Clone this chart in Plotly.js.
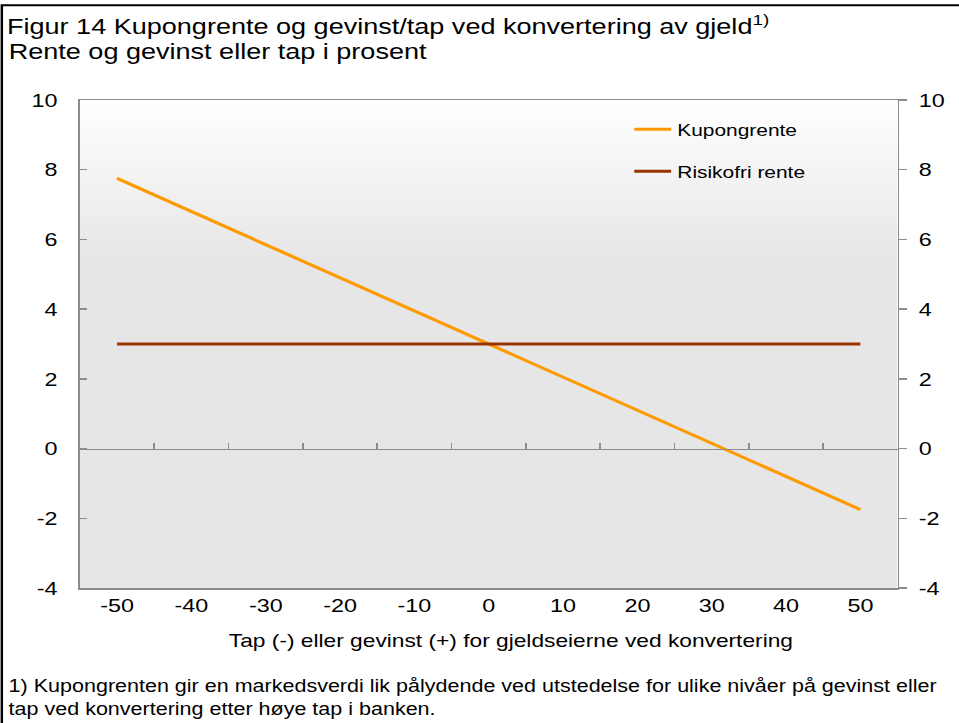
<!DOCTYPE html>
<html>
<head>
<meta charset="utf-8">
<script src="https://cdn.plot.ly/plotly-3.0.1.min.js"></script>
<style>
html,body{margin:0;padding:0;background:#fff;overflow:hidden;}
#wrap{width:959px;height:723px;overflow:hidden;}
#chart{width:780px;height:723px;transform:scaleX(1.2295);transform-origin:0 0;}
</style>
</head>
<body>
<div id="wrap"><div id="chart"></div></div>
<script>
// Data
const xValues = [-50, -40, -30, -20, -10, 0, 10, 20, 30, 40, 50];
const kupongrente = [7.75, 6.8, 5.85, 4.9, 3.95, 3.0, 2.05, 1.1, 0.15, -0.8, -1.75];
const risikofriRente = [3, 3, 3, 3, 3, 3, 3, 3, 3, 3, 3];
const xTickLabels = ['-50', '-40', '-30', '-20', '-10', '0', '10', '20', '30', '40', '50'];
const xMinorTicks = [-45, -35, -25, -15, -5, 5, 15, 25, 35, 45];
const yTicks = [-4, -2, 0, 2, 4, 6, 8, 10];
const yTickLabels = ['-4', '-2', '0', '2', '4', '6', '8', '10'];
const seriesNames = ['Kupongrente', 'Risikofri rente'];

const FONT = '"Liberation Sans", Arial, sans-serif';
const AX = '#8c8c8c';

const svg = "<svg xmlns='http://www.w3.org/2000/svg' width='100' height='100' preserveAspectRatio='none'>" +
  "<defs><linearGradient id='g' x1='0' y1='0' x2='0' y2='1'>" +
  "<stop offset='0' stop-color='#ffffff'/><stop offset='0.33' stop-color='#e6e6e6'/><stop offset='1' stop-color='#e6e6e6'/>" +
  "</linearGradient></defs><rect width='100' height='100' fill='url(#g)'/></svg>";
const bgSrc = 'data:image/svg+xml;charset=utf-8,' + encodeURIComponent(svg);

const traces = [
  {x: xValues, y: kupongrente, name: seriesNames[0], type: 'scatter', mode: 'lines',
   line: {color: '#ff9900', width: 3}, xaxis: 'x', yaxis: 'y', legendgroup: 'a'},
  {x: xValues, y: risikofriRente, name: seriesNames[1], type: 'scatter', mode: 'lines',
   line: {color: '#993300', width: 3}, xaxis: 'x2', yaxis: 'y2', legendgroup: 'b'}
];

const layout = {
  width: 780, height: 723,
  margin: {l: 65.07, r: 50.4, t: 100, b: 135},
  paper_bgcolor: '#ffffff',
  plot_bgcolor: 'rgba(0,0,0,0)',
  font: {family: FONT, color: '#000', size: 19},
  title: {
    text: 'Figur 14 Kupongrente og gevinst/tap ved konvertering av gjeld<sup>1)</sup>',
    font: {family: FONT, size: 22, color: '#000'},
    x: 0.0073, xref: 'container', xanchor: 'left',
    y: 0.963, yref: 'container', yanchor: 'middle', pad: {l: 0, t: 0, b: 0}
  },
  showlegend: true,
  legend: {
    x: 0.6705, y: 0.976, xanchor: 'left', yanchor: 'top',
    bgcolor: 'rgba(0,0,0,0)', borderwidth: 0,
    font: {family: FONT, size: 17, color: '#000'},
    traceorder: 'grouped', tracegroupgap: 17, itemwidth: 30
  },
  xaxis: {
    range: [-55, 55], tickvals: xValues, ticktext: xTickLabels,
    ticks: '', showline: true, linecolor: AX, linewidth: 1.5, mirror: true,
    showgrid: false, zeroline: false, tickfont: {size: 19},
    fixedrange: true
  },
  xaxis2: {
    overlaying: 'x', anchor: 'free', position: 4 / 14,
    range: [-55, 55], tickvals: xMinorTicks, showticklabels: false,
    ticks: 'inside', ticklen: 6, tickcolor: AX, tickwidth: 1.5,
    showline: true, linecolor: AX, linewidth: 1.5,
    showgrid: false, zeroline: false, fixedrange: true
  },
  yaxis: {
    range: [-4, 10], tickvals: yTicks, ticktext: yTickLabels, ticks: 'inside', ticklen: 6, tickcolor: AX, tickwidth: 1.5,
    showline: true, linecolor: AX, linewidth: 1.5, showgrid: false, zeroline: false,
    tickfont: {size: 19}, ticklabelstandoff: 13, fixedrange: true
  },
  yaxis2: {
    overlaying: 'y', side: 'right', anchor: 'x2',
    range: [-4, 10], tickvals: yTicks, ticktext: yTickLabels, ticks: 'outside', ticklen: 6, tickcolor: AX, tickwidth: 1.5,
    showline: true, linecolor: AX, linewidth: 1.5, showgrid: false, zeroline: false,
    tickfont: {size: 19}, ticklabelstandoff: 6, fixedrange: true
  },
  images: [{
    source: bgSrc, xref: 'paper', yref: 'paper', x: 0, y: 1, sizex: 1, sizey: 1,
    xanchor: 'left', yanchor: 'top', sizing: 'stretch', layer: 'below'
  }],
  shapes: [{
    type: 'rect', xref: 'paper', yref: 'paper',
    x0: -0.0955, x1: 1.2, y0: -0.5, y1: 1.194,
    line: {color: '#000', width: 2}, fillcolor: 'rgba(0,0,0,0)', layer: 'above'
  }],
  annotations: [
    {
      text: 'Rente og gevinst eller tap i prosent',
      xref: 'paper', yref: 'paper', x: -0.0895, y: 1.0984, xanchor: 'left', yanchor: 'middle',
      showarrow: false, font: {family: FONT, size: 22, color: '#000'}
    },
    {
      text: 'Tap (-) eller gevinst (+) for gjeldseierne ved konvertering',
      xref: 'paper', yref: 'paper', x: 0.5275, y: -0.1086, xanchor: 'center', yanchor: 'middle',
      showarrow: false, font: {family: FONT, size: 18.5, color: '#000'}
    },
    {
      text: '1) Kupongrenten gir en markedsverdi lik pålydende ved utstedelse for ulike nivåer på gevinst eller<br>tap ved konvertering etter høye tap i banken.',
      xref: 'paper', yref: 'paper', x: -0.0905, y: -0.176, xanchor: 'left', yanchor: 'top',
      align: 'left', showarrow: false, font: {family: FONT, size: 17.5, color: '#000'}
    }
  ]
};

Plotly.newPlot('chart', traces, layout, {displayModeBar: false, staticPlot: true});
</script>
</body>
</html>
